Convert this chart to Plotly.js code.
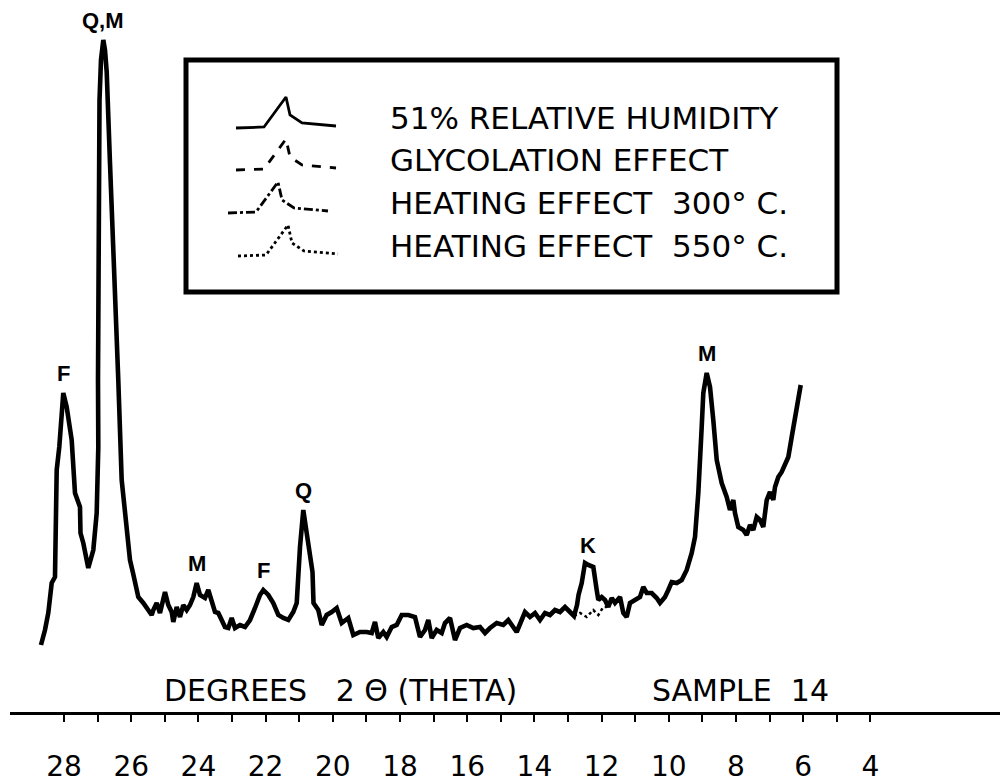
<!DOCTYPE html>
<html>
<head>
<meta charset="utf-8">
<script src="https://cdn.plot.ly/plotly-3.0.1.min.js"></script>
<style>html,body{margin:0;padding:0;background:#fff;}#chart{width:1000px;height:783px;}</style>
</head>
<body>
<div id="chart"></div>
<script>
// ---- data: 2-theta (degrees) and relative intensity (arbitrary units) ----
const THETA = [28.685,28.566,28.467,28.366,28.268,28.238,28.217,28.140,28.021,27.920,27.771,27.673,27.524,27.509,27.426,27.277,27.128,27.027,26.979,26.988,26.973,26.943,26.899,26.830,26.780,26.729,26.631,26.533,26.384,26.283,26.134,26.036,25.946,25.789,25.640,25.539,25.390,25.342,25.241,25.143,24.994,24.896,24.795,24.747,24.646,24.548,24.449,24.348,24.250,24.152,24.051,23.952,23.804,23.705,23.604,23.506,23.408,23.307,23.208,23.110,23.009,22.911,22.762,22.613,22.464,22.315,22.167,22.068,21.920,21.771,21.622,21.473,21.324,21.176,21.074,20.976,20.878,20.777,20.679,20.604,20.574,20.432,20.330,20.182,20.033,19.884,19.735,19.539,19.390,19.191,18.991,18.842,18.744,18.646,18.497,18.396,18.247,18.098,17.949,17.753,17.554,17.405,17.256,17.158,17.057,16.908,16.759,16.661,16.512,16.363,16.214,16.015,15.819,15.619,15.470,15.321,15.122,14.926,14.777,14.628,14.527,14.378,14.280,14.131,13.982,13.833,13.685,13.536,13.387,13.238,13.089,12.940,12.821,12.732,12.687,12.592,12.494,12.396,12.247,12.146,12.098,11.997,11.899,11.801,11.699,11.601,11.452,11.354,11.253,11.155,11.006,10.857,10.759,10.658,10.509,10.360,10.262,10.113,10.015,9.914,9.765,9.616,9.467,9.318,9.220,9.122,9.021,8.973,8.872,8.774,8.676,8.574,8.426,8.277,8.179,8.080,8.030,7.932,7.783,7.682,7.583,7.485,7.384,7.286,7.188,7.086,6.988,6.890,6.839,6.741,6.640,6.542,6.443,6.342,6.244,6.146,6.074];
const INTENSITY = [67,82,99,129,135,189,242,265,319,305,272,219,205,179,169,144,162,199,265,332,512,612,652,672,662,640,549,449,332,232,182,152,139,115,109,104,97,102,109,99,120,107,100,90,105,95,107,102,107,115,129,117,114,122,109,100,99,92,85,84,94,84,87,85,92,104,117,122,117,109,97,94,92,100,109,165,202,179,152,140,109,102,87,97,100,104,89,94,77,80,80,79,90,74,80,75,85,87,97,97,95,75,82,92,74,82,79,89,94,72,84,87,84,85,79,84,89,87,92,85,80,92,100,95,99,92,99,97,102,100,105,100,96,107,117,129,149,147,145,122,112,115,112,105,114,109,115,99,95,109,112,115,125,119,119,114,109,115,122,130,129,132,142,159,175,219,285,319,339,325,292,252,229,215,202,212,199,185,182,177,187,182,195,192,185,212,220,212,225,235,240,249,255,275,295,312,327];
// heating effect 550 C : differs from the main trace only across the K peak
const THETA_550 = [12.821,12.643,12.444,12.247,12.098,11.949,11.848];
const INTENSITY_550 = [96,99,95,102,97,105,105];

const TICK_VALUES = [4,5,6,7,8,9,10,11,12,13,14,15,16,17,18,19,20,21,22,23,24,25,26,27,28];
const PEAK_NAMES = ['F','Q,M','M','F','Q','K','M'];
const PEAK_THETA = [28.021,26.830,24.051,22.068,20.878,12.396,8.872];

const SERIES_NAMES = ['51% RELATIVE HUMIDITY','GLYCOLATION EFFECT','HEATING EFFECT  300° C.','HEATING EFFECT  550° C.'];
const SERIES_DASH = ['solid','dash','dashdot','dot'];
// legend glyph (a small peak) profile
const GLYPH_DX = [0,28,50,54,66,100];
const GLYPH_DY = [10,9,-21,-3,5,8];

// ---- build ----
const font = "DejaVu Sans, Liberation Sans, sans-serif";
const traces = [
  {x: THETA, y: INTENSITY, mode:'lines', line:{color:'#000', width:4.6, shape:'linear'}, hoverinfo:'skip', showlegend:false},
  {x: THETA_550, y: INTENSITY_550, mode:'lines', line:{color:'#000', width:2.5, dash:'dot'}, hoverinfo:'skip', showlegend:false}
];

// legend rows in pixel space (x2/y2)
const ROW_Y = [118,160,203,246];
const ROW_X0 = [236,236,228,238];
const annotations = [];
const shapes = [];
SERIES_NAMES.forEach((name, i) => {
  traces.push({
    x: GLYPH_DX.map(d => ROW_X0[i] + d), y: GLYPH_DY.map(d => ROW_Y[i] + d),
    xaxis:'x2', yaxis:'y2', mode:'lines', hoverinfo:'skip', showlegend:false,
    line:{color:'#000', width:2.8, dash: SERIES_DASH[i]}
  });
  annotations.push({xref:'x2', yref:'y2', x:388, y:ROW_Y[i], text:name, showarrow:false,
    xanchor:'left', yanchor:'middle', font:{family:font, size:31, color:'#000'}});
});
shapes.push({type:'rect', xref:'x2', yref:'y2', x0:186, x1:837, y0:60, y1:292,
  line:{color:'#000', width:5}, fillcolor:'rgba(0,0,0,0)'});

// peak labels, placed above the data at each peak
function nearestIndex(t){ let b=0; THETA.forEach((v,i)=>{ if(Math.abs(v-t)<Math.abs(THETA[b]-t)) b=i; }); return b; }
PEAK_NAMES.forEach((n, i) => {
  const k = nearestIndex(PEAK_THETA[i]);
  annotations.push({x: THETA[k], y: INTENSITY[k], text:n, showarrow:false, yanchor:'bottom', yshift:5,
    font:{family:"Liberation Sans, Arial, sans-serif", size:22, color:'#000', weight:'bold'}});
});

// axis captions
annotations.push({xref:'x2', yref:'y2', x:162, y:690, text:'DEGREES&nbsp;&nbsp; 2 Θ (THETA)', showarrow:false,
  xanchor:'left', yanchor:'middle', font:{family:font, size:30, color:'#000'}});
annotations.push({xref:'x2', yref:'y2', x:650, y:690, text:'SAMPLE&nbsp; 14', showarrow:false,
  xanchor:'left', yanchor:'middle', font:{family:font, size:30, color:'#000'}});

const layout = {
  width:1000, height:783,
  margin:{l:10, r:0, t:0, b:71, pad:0},
  paper_bgcolor:'#fff', plot_bgcolor:'#fff',
  showlegend:false,
  xaxis:{range:[29.607, 0.143], showgrid:false, zeroline:false, showline:true, linecolor:'#000', linewidth:3,
    ticks:'outside', ticklen:7, tickwidth:2, tickcolor:'#000',
    tickvals: TICK_VALUES, ticktext: TICK_VALUES.map(v => v % 2 === 0 ? String(v) : ''),
    ticklabelstandoff: 20, tickfont:{family:font, size:28, color:'#000'}, fixedrange:true},
  yaxis:{range:[0,712], visible:false, fixedrange:true},
  xaxis2:{overlaying:'x', range:[10,1000], visible:false, fixedrange:true},
  yaxis2:{overlaying:'y', range:[712,0], visible:false, fixedrange:true},
  annotations: annotations,
  shapes: shapes
};
Plotly.newPlot('chart', traces, layout, {displayModeBar:false, staticPlot:true});
</script>
</body>
</html>
